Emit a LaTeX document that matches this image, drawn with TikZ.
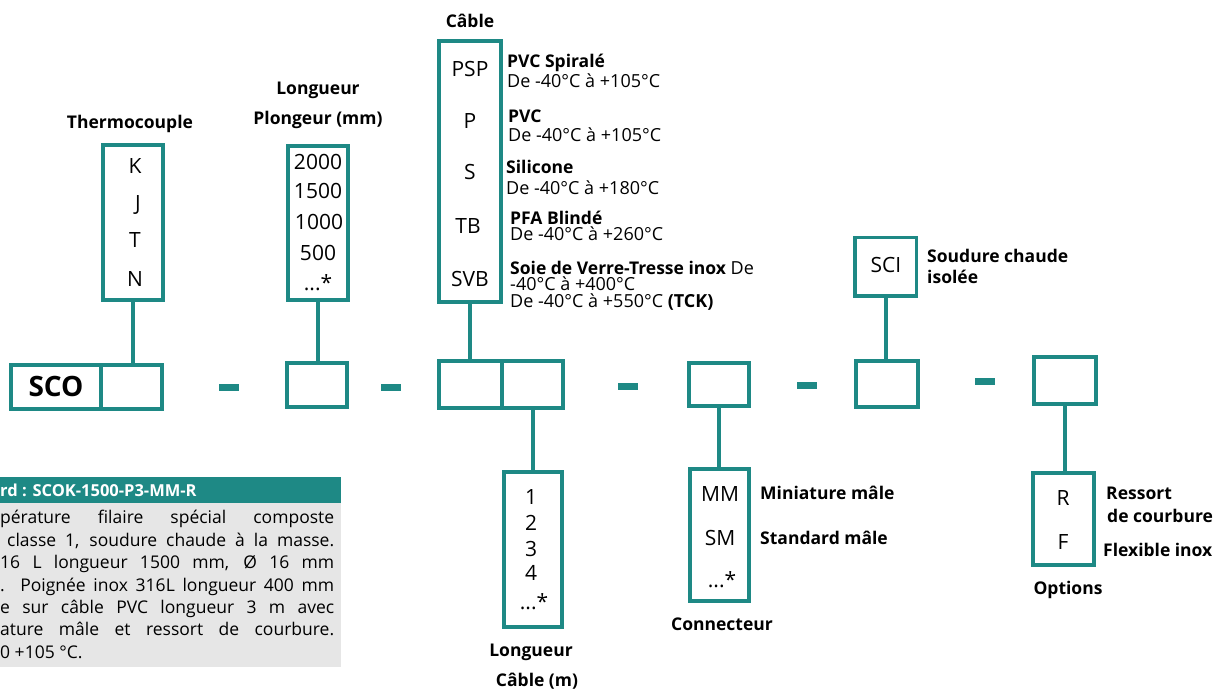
\documentclass[tikz,border=0pt]{standalone}
\usepackage{fontspec}
\setmainfont{Open Sans}
\definecolor{sonde}{RGB}{30,137,133}
\definecolor{fondgris}{RGB}{230,230,230}
\begin{document}
\begin{tikzpicture}[x=1pt,y=-1pt,
    cadre/.style={draw=sonde,line width=3.7pt,inner sep=0pt,outer sep=0pt},
    trait/.style={draw=sonde,line width=3.7pt},
    tiret/.style={fill=sonde,inner sep=0pt,minimum width=20pt,minimum height=7pt},
    code/.style={font=\fontsize{21}{24}\selectfont,inner sep=0pt,anchor=mid,yshift=-4.5pt},
    titre/.style={font=\bfseries\fontsize{17.5}{20}\selectfont,inner sep=0pt,anchor=mid,yshift=-4pt},
    titrew/.style={titre,anchor=mid west},
    info/.style={font=\fontsize{18}{18}\selectfont,inner sep=0pt,anchor=mid west,yshift=-4pt},
    infob/.style={font=\bfseries\fontsize{17.5}{18}\selectfont,inner sep=0pt,anchor=mid west,yshift=-4pt},
    texte/.style={font=\fontsize{17.5}{18}\selectfont,inner sep=0pt,anchor=mid west,yshift=-4pt}]
    \useasboundingbox (0,0) rectangle (1214,690);
    % ligne du code
    \node[cadre,minimum width=89.5pt,minimum height=44pt,font=\bfseries\fontsize{28}{30}\selectfont] (sco) at (56,386.8) {SCO};
    \node[cadre,minimum width=61.5pt,minimum height=44pt] (tcslot) at (131.5,386.8) {};
    \node[cadre,minimum width=60pt,minimum height=44pt] (plslot) at (317,385) {};
    \node[cadre,minimum width=63.1pt,minimum height=47.2pt] (cbslot) at (470.2,384.5) {};
    \node[cadre,minimum width=61.4pt,minimum height=47.2pt] (lcslot) at (532.4,384.5) {};
    \node[cadre,minimum width=60pt,minimum height=43.5pt] (cnslot) at (719.2,384.4) {};
    \node[cadre,minimum width=62.2pt,minimum height=46.2pt] (scislot) at (887,384) {};
    \node[cadre,minimum width=61.6pt,minimum height=47pt] (opslot) at (1065,380.4) {};
    \node[tiret] (d1) at (229,387) {};
    \node[tiret] (d2) at (391,387) {};
    \node[tiret] (d3) at (628,386.3) {};
    \node[tiret] (d4) at (807,385) {};
    \node[tiret] (d5) at (985,381.3) {};
    % thermocouple
    \node[titre] (ttc) at (130,122) {Thermocouple};
    \node[cadre,minimum width=60.2pt,minimum height=155.5pt] (tc) at (133,222.4) {};
    \node[code] (tck) at (135,166) {K};
    \node[code] (tcj) at (138,203) {J};
    \node[code] (tct) at (135,240) {T};
    \node[code] (tcn) at (135,279) {N};
    \draw[trait] (tc.south) -- (tc.south |- tcslot.north);
    % longueur plongeur
    \node[titre] (tpl1) at (318,88) {Longueur};
    \node[titre] (tpl2) at (318,118) {Plongeur (mm)};
    \node[cadre,minimum width=60pt,minimum height=154pt] (pl) at (318,223) {};
    \node[code] (pl1) at (318,162) {2000};
    \node[code] (pl2) at (318,191) {1500};
    \node[code] (pl3) at (319,222) {1000};
    \node[code] (pl4) at (318,253) {500};
    \node[code] (pl5) at (318,283) {...*};
    \draw[trait] (pl.south) -- (pl.south |- plslot.north);
    % cable
    \node[titre] (tcb) at (470,21) {Câble};
    \node[cadre,minimum width=61.6pt,minimum height=260.9pt] (cb) at (470,171.6) {};
    \node[code] (cb1) at (470,69) {PSP};
    \node[code] (cb2) at (470,121) {P};
    \node[code] (cb3) at (470,172) {S};
    \node[code] (cb4) at (468,226) {TB};
    \node[code] (cb5) at (470,279) {SVB};
    \node[infob] (icb1) at (507,61) {PVC Spiralé};
    \node[info] (icb1b) at (507,81) {De -40°C à +105°C};
    \node[infob] (icb2) at (508,116) {PVC};
    \node[info] (icb2b) at (508,135) {De -40°C à +105°C};
    \node[infob] (icb3) at (506,167) {Silicone};
    \node[info] (icb3b) at (506,188) {De -40°C à +180°C};
    \node[infob] (icb4) at (510,218) {PFA Blindé};
    \node[info] (icb4b) at (510,234) {De -40°C à +260°C};
    \node[info] (icb5) at (510,268) {\textbf{\fontsize{17.5}{18}\selectfont Soie de Verre-Tresse inox} De};
    \node[info] (icb5b) at (510,284) {-40°C à +400°C};
    \node[info] (icb5c) at (510,301) {De -40°C à +550°C \textbf{(TCK)}};
    \draw[trait] (cb.south) -- (cb.south |- cbslot.north);
    % longueur cable
    \node[cadre,minimum width=58.5pt,minimum height=154.9pt] (lc) at (532.9,549.3) {};
    \node[code] (lc1) at (531,497) {1};
    \node[code] (lc2) at (531,523) {2};
    \node[code] (lc3) at (531,549) {3};
    \node[code] (lc4) at (531,573) {4};
    \node[code] (lc5) at (534,602) {...*};
    \node[titre] (tlc1) at (531,650) {Longueur};
    \node[titre] (tlc2) at (537,679.5) {Câble (m)};
    \draw[trait] (lc.north) -- (lc.north |- lcslot.south);
    % connecteur
    \node[cadre,minimum width=59.2pt,minimum height=132.2pt] (cn) at (719.5,535) {};
    \node[code] (cn1) at (720,494) {MM};
    \node[code] (cn2) at (720,538) {SM};
    \node[code] (cn3) at (722,580) {...*};
    \node[titrew] (icn1) at (760,493) {Miniature mâle};
    \node[titrew] (icn2) at (760,538) {Standard mâle};
    \node[titre] (tcn) at (722,624) {Connecteur};
    \draw[trait] (cnslot.south) -- (cnslot.south |- cn.north);
    % soudure
    \node[cadre,minimum width=61.2pt,minimum height=58.2pt] (sci) at (885.8,266.7) {};
    \node[code] (sci1) at (886,265) {SCI};
    \node[titrew] (isci1) at (927,256) {Soudure chaude};
    \node[titrew] (isci2) at (927,277) {isolée};
    \draw[trait] (sci.south) -- (sci.south |- scislot.north);
    % options
    \node[cadre,minimum width=61pt,minimum height=91.8pt] (op) at (1063.5,518.9) {};
    \node[code] (op1) at (1063,498) {R};
    \node[code] (op2) at (1063,542) {F};
    \node[titrew] (iop1) at (1106,493) {Ressort};
    \node[titrew] (iop2) at (1107,516) {de courbure};
    \node[titrew] (iop3) at (1103,550) {Flexible inox};
    \node[titre] (top) at (1068,588) {Options};
    \draw[trait] (opslot.south) -- (opslot.south |- op.north);
    % exemple
    \fill[fondgris] (0,502) rectangle (340.7,667);
    \fill[sonde] (0,476.7) rectangle (340.7,502.7);
    \node[texte,font=\bfseries\fontsize{16.5}{18}\selectfont,text=white] (ex0) at (0,490) {rd : SCOK-1500-P3-MM-R};
    \node[texte] (ex1) at (0,517) {\makebox[334pt][s]{pérature filaire spécial composte}};
    \node[texte] (ex2) at (7,540) {\makebox[327pt][s]{classe 1, soudure chaude à la masse.}};
    \node[texte] (ex3) at (0,562) {\makebox[334pt][s]{16 L longueur 1500 mm, Ø 16 mm}};
    \node[texte] (ex4) at (0,585) {\makebox[334pt][s]{. Poignée inox 316L longueur 400 mm}};
    \node[texte] (ex5) at (0,607) {\makebox[334pt][s]{e sur câble PVC longueur 3 m avec}};
    \node[texte] (ex6) at (0,629) {\makebox[334pt][s]{ature mâle et ressort de courbure.}};
    \node[texte] (ex7) at (0,652) {0 +105 °C.};
\end{tikzpicture}
\end{document}
